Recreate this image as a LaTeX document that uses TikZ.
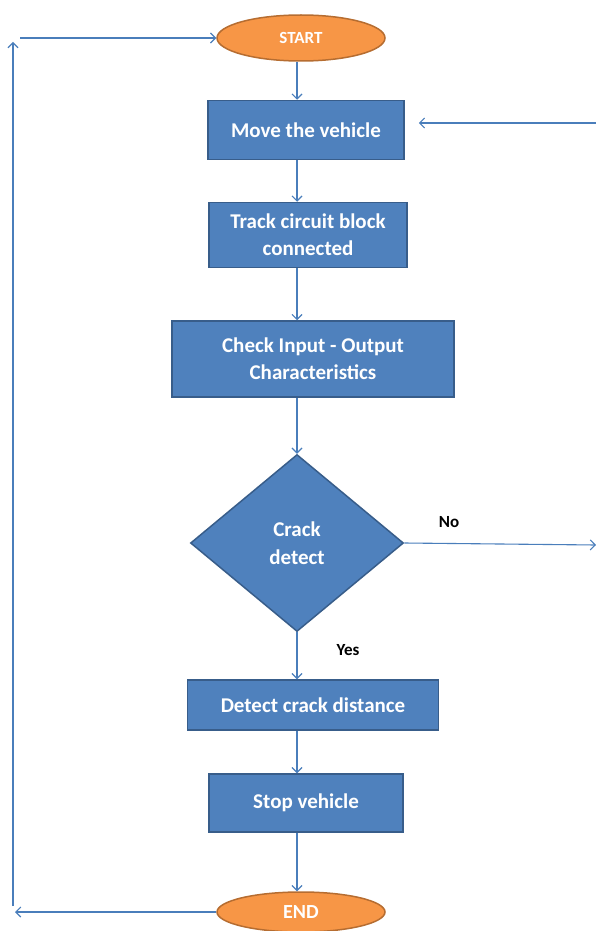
\documentclass[tikz,border=0pt]{standalone}
\usepackage{fontspec}
\setmainfont{Carlito}
\usetikzlibrary{shapes.geometric,arrows.meta}
\definecolor{boxblue}{HTML}{4F81BD}
\definecolor{boxline}{HTML}{385D8A}
\definecolor{termfill}{HTML}{F79646}
\definecolor{termline}{HTML}{B66D31}
\definecolor{flowline}{HTML}{4A7EBB}

\begin{document}
\begin{tikzpicture}[x=1pt,y=-1pt,
  process/.style={rectangle,draw=boxline,fill=boxblue,line width=1.5pt,text=white,
    font=\bfseries\fontsize{21}{27}\selectfont,align=center,inner sep=0pt},
  terminal/.style={ellipse,draw=termline,fill=termfill,line width=1.5pt,text=white,inner sep=0pt},
  decision/.style={diamond,draw=boxline,fill=boxblue,line width=1.5pt,text=white,
    font=\bfseries\fontsize{21}{28}\selectfont,align=center,inner sep=0pt},
  flow/.style={draw=flowline,line width=1.1pt,-{Straight Barb[length=5pt,width=10pt]}},
  answer/.style={font=\bfseries\fontsize{17}{20}\selectfont}]
\useasboundingbox (0,0) rectangle (596,931);

% blocks
\node[terminal,minimum width=168pt,minimum height=46pt,font=\bfseries\fontsize{17}{20}\selectfont] (start) at (301,38) {START};
\node[process,minimum width=196pt,minimum height=59pt] (move) at (306,130) {Move the vehicle};
\node[process,minimum width=198pt,minimum height=65pt] (track) at (308,235) {Track circuit block\\connected};
\node[process,minimum width=282pt,minimum height=76pt] (check) at (313,359) {Check Input - Output\\Characteristics};
\node[decision,minimum width=213pt,minimum height=177pt] (crack) at (297,543) {Crack\\detect};
\node[process,minimum width=251pt,minimum height=50pt] (dist) at (313,705) {Detect crack distance};
\node[process,minimum width=194pt,minimum height=58pt] (stop) at (306,803) {Stop vehicle};
\node[terminal,minimum width=168pt,minimum height=40pt,font=\bfseries\fontsize{20}{24}\selectfont] (end) at (301,912) {END};

\node[answer] (no) at (449,522) {No};
\node[answer] (yes) at (348,650) {Yes};

\coordinate (noend) at (596,545);
\coordinate (back) at (596,123);
\coordinate (lowleft) at (15,912);
\coordinate (leftbot) at (13,906);
\coordinate (lefttop) at (13,42);
\coordinate (topleft) at (20,38);

% main line
\draw[flow] (start.south -| crack) -- (move.north -| crack);
\draw[flow] (move.south -| crack) -- (track.north -| crack);
\draw[flow] (track.south -| crack) -- (check.north -| crack);
\draw[flow] (check.south -| crack) -- (crack.north);
\draw[flow] (crack.south) -- (dist.north -| crack);
\draw[flow] (dist.south -| crack) -- (stop.north -| crack);
\draw[flow] (stop.south -| crack) -- (end.north -| crack);

% side lines
\draw[flow] (crack.east) -- (noend);
\draw[flow,shorten >=14pt] (back) -- (back -| move.east);
\draw[flow] (end.west) -- (lowleft);
\draw[flow] (leftbot) -- (lefttop);
\draw[flow] (topleft) -- (start.west);
\end{tikzpicture}
\end{document}
